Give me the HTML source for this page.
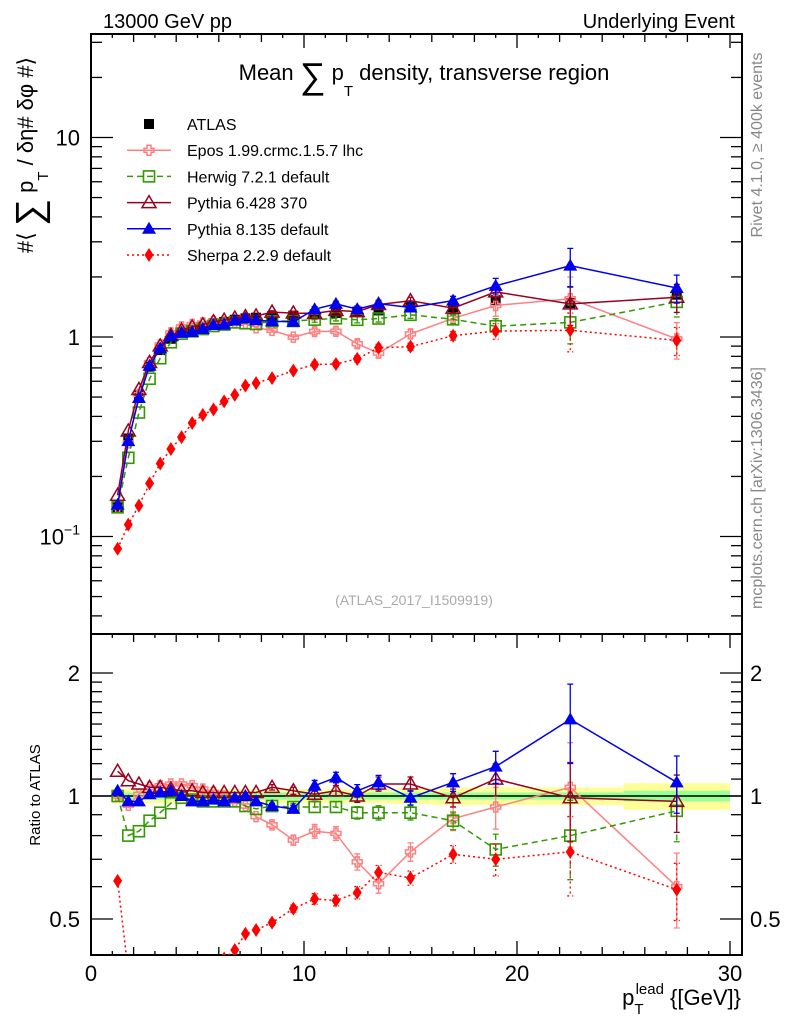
<!DOCTYPE html>
<html><head><meta charset="utf-8"><style>
html,body{margin:0;padding:0;background:#fff;}
svg{display:block;font-family:"Liberation Sans",sans-serif;}
</style></head><body>
<svg id="chart" width="786" height="1024" viewBox="0 0 786 1024" xmlns="http://www.w3.org/2000/svg">
<defs>
<clipPath id="clipMain"><rect x="91" y="34" width="651" height="600"/></clipPath>
<clipPath id="clipRatio"><rect x="91" y="634" width="651" height="321"/></clipPath>
</defs>
<g id="bands" clip-path="url(#clipRatio)"></g>
<g id="axes"></g>
<g id="series"></g>
<text x="103" y="28" font-size="20">13000 GeV pp</text>
<text x="735" y="28" font-size="20" text-anchor="end">Underlying Event</text>
<text x="424" y="80" font-size="22" text-anchor="middle">Mean <tspan font-size="36" dy="8">∑</tspan><tspan dy="-8"> p</tspan><tspan font-size="15" dy="16">T</tspan><tspan dy="-16"> density, transverse region</tspan></text>
<text x="414" y="605" font-size="14" fill="#aaa" text-anchor="middle">(ATLAS_2017_I1509919)</text>
<text transform="translate(762,145) rotate(-90)" font-size="16" fill="#888" text-anchor="middle">Rivet 4.1.0, ≥ 400k events</text>
<text transform="translate(762,488) rotate(-90)" font-size="16" fill="#888" text-anchor="middle">mcplots.cern.ch [arXiv:1306.3436]</text>
<text transform="translate(33,155) rotate(-90)" font-size="22" text-anchor="middle">#⟨ <tspan font-size="38" dy="9">∑</tspan><tspan dy="-9"> p</tspan><tspan font-size="15" dy="15">T</tspan><tspan dy="-15"> / δη# δφ #⟩</tspan></text>
<text transform="translate(40,795) rotate(-90)" font-size="15" text-anchor="middle">Ratio to ATLAS</text>
<text x="741" y="1005" font-size="22" text-anchor="end">p<tspan font-size="15" dy="9">T</tspan><tspan font-size="15" dy="-20" dx="-8">lead</tspan><tspan dy="11"> {[GeV]}</tspan></text>
<g id="legend"></g>
</svg>
<script>
const xBins = [1.25,1.75,2.25,2.75,3.25,3.75,4.25,4.75,5.25,5.75,6.25,6.75,7.25,7.75,8.5,9.5,10.5,11.5,12.5,13.5,15,17,19,22.5,27.5];
const atlas = [0.14,0.31,0.51,0.71,0.86,0.98,1.05,1.09,1.13,1.17,1.19,1.22,1.24,1.25,1.27,1.28,1.30,1.32,1.34,1.36,1.42,1.41,1.53,1.48,1.63];
const epos = [1.0,0.95,1.01,1.05,1.06,1.07,1.07,1.06,1.04,1.02,1.0,0.97,0.945,0.89,0.85,0.78,0.82,0.81,0.69,0.61,0.73,0.88,0.94,1.05,0.60];
const herwig = [1.0,0.80,0.82,0.87,0.91,0.96,0.99,0.98,0.97,0.97,0.97,0.97,0.945,0.93,0.945,0.94,0.94,0.94,0.91,0.91,0.91,0.87,0.74,0.80,0.92];
const pythia6 = [1.15,1.09,1.07,1.05,1.05,1.04,1.03,1.03,1.02,1.02,1.02,1.02,1.02,1.02,1.05,1.03,1.01,1.03,1.0,1.07,1.07,0.99,1.10,0.99,0.97];
const pythia8 = [1.03,0.97,0.97,1.01,1.02,1.03,1.0,0.97,0.97,0.98,0.97,0.99,1.0,0.97,0.945,0.93,1.06,1.11,1.03,1.08,0.99,1.08,1.18,1.54,1.08];
const sherpa = [0.62,0.37,0.28,0.26,0.27,0.28,0.30,0.34,0.36,0.37,0.40,0.42,0.46,0.47,0.49,0.53,0.56,0.555,0.58,0.65,0.63,0.72,0.70,0.73,0.59];
const relErr = [0.01,0.01,0.01,0.01,0.01,0.01,0.01,0.01,0.01,0.01,0.01,0.01,0.01,0.01,0.015,0.02,0.03,0.03,0.035,0.04,0.04,0.05,0.09,0.22,0.16];
const bandStat = [0.02,0.02,0.02,0.02,0.02,0.02,0.02,0.02,0.02,0.02,0.02,0.02,0.02,0.02,0.02,0.02,0.02,0.02,0.02,0.02,0.02,0.02,0.02,0.02,0.03];
const bandTot = [0.04,0.04,0.04,0.04,0.04,0.04,0.04,0.04,0.04,0.04,0.04,0.04,0.04,0.04,0.04,0.04,0.04,0.04,0.04,0.04,0.045,0.05,0.05,0.05,0.075];
const binEdges = [1,1.5,2,2.5,3,3.5,4,4.5,5,5.5,6,6.5,7,7.5,8,9,10,11,12,13,14,16,18,20,25,30];

const NS='http://www.w3.org/2000/svg';
const X0=91, X1=742, PX=21.3;
const MT=34, MB=634, RB=955;
const sx = v => X0 + v*PX;
const sy = v => 337 - 199.5*Math.log10(v);
const sr = v => 796 - 123*Math.log2(v);
function mk(tag, attrs, parent){const e=document.createElementNS(NS,tag);for(const k in attrs)e.setAttribute(k,attrs[k]);parent.appendChild(e);return e;}

const axes=document.getElementById('axes');
let f1=mk('rect',{x:X0,y:MT,width:X1-X0,height:MB-MT,fill:'none',stroke:'#000','stroke-width':2},axes);


let f2=mk('rect',{x:X0,y:MB,width:X1-X0,height:RB-MB,fill:'none',stroke:'#000','stroke-width':2},axes);


for(let v=1; v<=30; v++){
  const L = v%10===0?14:(v%2===0?8:4);
  const x=sx(v);
  for(const [yb,dir] of [[MT,1],[MB,1],[RB,-1]]){
    mk('line',{x1:x,x2:x,y1:yb,y2:yb+dir*L,stroke:'#000','stroke-width':1.3},axes);
  }
}
const xTickLabels=['0','10','20','30'];
xTickLabels.forEach(t=>{const e=mk('text',{x:sx(+t),y:981,'font-size':22,'text-anchor':'middle'},axes);e.textContent=t;

});
for(let d=-2; d<=1; d++){
  for(let m=1;m<=9;m++){
    const v=m*Math.pow(10,d); const y=sy(v);
    if(y<MT||y>MB) continue;
    const L=m===1?22:11;
    mk('line',{x1:X0,x2:X0+L,y1:y,y2:y,stroke:'#000','stroke-width':1.3},axes);
    mk('line',{x1:X1,x2:X1-L,y1:y,y2:y,stroke:'#000','stroke-width':1.3},axes);
  }
}
const yTickLabels=[[10,'10'],[1,'1']];
yTickLabels.forEach(([v,t])=>{const e=mk('text',{x:80,y:sy(v)+8,'font-size':22,'text-anchor':'end'},axes);e.textContent=t;

});
let e10=mk('text',{x:80,y:sy(0.1)+8,'font-size':22,'text-anchor':'end'},axes);
e10.innerHTML='10<tspan font-size="14" dy="-10">−1</tspan>';


const rTicks=[0.5,0.6,0.7,0.8,0.9,1,1.1,1.2,1.3,1.4,1.5,1.6,1.7,1.8,1.9,2];
rTicks.forEach(v=>{const y=sr(v);const L=(v===1||v===2||v===0.5)?22:11;
  mk('line',{x1:X0,x2:X0+L,y1:y,y2:y,stroke:'#000','stroke-width':1.3},axes);
  mk('line',{x1:X1,x2:X1-L,y1:y,y2:y,stroke:'#000','stroke-width':1.3},axes);});
const rLabels=['0.5','1','2'];
rLabels.forEach(t=>{for(const [x,a] of [[80,'end'],[750,'start']]){const e=mk('text',{x:x,y:sr(+t)+8,'font-size':22,'text-anchor':a},axes);e.textContent=t;

}});

const bands=document.getElementById('bands');
xBins.forEach((x,i)=>{
  const a=sx(binEdges[i]), b=sx(binEdges[i+1]);
  let r1=mk('rect',{x:a,y:sr(1+bandTot[i]),width:b-a,height:sr(1-bandTot[i])-sr(1+bandTot[i]),fill:'#ffff99'},bands);
  
  
  let r2=mk('rect',{x:a,y:sr(1+bandStat[i]),width:b-a,height:sr(1-bandStat[i])-sr(1+bandStat[i]),fill:'#99ff99'},bands);
  
  
});
let one=mk('line',{x1:X0,x2:X1,y1:sr(1),y2:sr(1),stroke:'#000','stroke-width':1.5},bands);



function marker(g,type,x,y,c){
  let e;
  if(type==='square') e=mk('rect',{x:x-5,y:y-5,width:10,height:10,fill:'#000'},g);
  else if(type==='osquare') e=mk('rect',{x:x-5.5,y:y-5.5,width:11,height:11,fill:'none',stroke:c,'stroke-width':1.6},g);
  else if(type==='cross') e=mk('path',{d:`M${x-2} ${y-5}h4v3h3v4h-3v3h-4v-3h-3v-4h3z`,fill:'none',stroke:c,'stroke-width':1.5},g);
  else if(type==='otri') e=mk('path',{d:`M${x} ${y-7}L${x+7} ${y+5}L${x-7} ${y+5}Z`,fill:'none',stroke:c,'stroke-width':1.5},g);
  else if(type==='tri') e=mk('path',{d:`M${x} ${y-7}L${x+7} ${y+5}L${x-7} ${y+5}Z`,fill:c},g);
  else e=mk('path',{d:`M${x} ${y-7}L${x+4.5} ${y}L${x} ${y+7}L${x-4.5} ${y}Z`,fill:c},g);
  
  
}
const seriesDefs=[
  ['epos-series',epos,'#ff8080','cross',''],
  ['herwig-series',herwig,'#339900','osquare','6,4'],
  ['pythia6-series',pythia6,'#990022','otri',''],
  ['pythia8-series',pythia8,'#0000ee','tri',''],
  ['sherpa-series',sherpa,'#ff0000','diamond','2,3']
];
const sg=document.getElementById('series');
const ga=mk('g',{'clip-path':'url(#clipMain)'},sg);


atlas.forEach((v,i)=>{const x=sx(xBins[i]);
  mk('line',{x1:x,x2:x,y1:sy(v*(1+bandTot[i])),y2:sy(v*(1-bandTot[i])),stroke:'#000','stroke-width':1.3},ga);
  marker(ga,'square',x,sy(v),'#000');});
const gm=mk('g',{'clip-path':'url(#clipMain)'},sg);


const gr=mk('g',{'clip-path':'url(#clipRatio)'},sg);


seriesDefs.forEach(([name,ratio,c,type,dash])=>{
  for(const [panel,fy,isMain] of [[gm,sy,true],[gr,sr,false]]){
    const g=mk('g',{},panel);
    
    
    const vals=ratio.map((r,i)=>isMain?r*atlas[i]:r);
    const pts=vals.map((v,i)=>sx(xBins[i]).toFixed(1)+','+fy(v).toFixed(1)).join(' ');
    const pl=mk('polyline',{points:pts,fill:'none',stroke:c,'stroke-width':1.5,'stroke-dasharray':dash},g);
    
    
    vals.forEach((v,i)=>{
      const x=sx(xBins[i]);
      const e=relErr[i]*(type==='cross'?1.3:1);
      if(e>0.012){
        const y1=fy(v*(1+e)), y2=fy(v*(1-e));
        mk('path',{d:`M${x} ${y1}V${y2}M${x-3} ${y1}h6M${x-3} ${y2}h6`,stroke:c,'stroke-width':1.3,'stroke-dasharray':dash},g);
      }
      marker(g,type,x,fy(v),c);
    });
  }
});

const lg=document.getElementById('legend');
const legendLabels=['ATLAS','Epos 1.99.crmc.1.5.7 lhc','Herwig 7.2.1 default','Pythia 6.428 370','Pythia 8.135 default','Sherpa 2.2.9 default'];
const legendStyles=[['#000','square',''],...seriesDefs.map(s=>[s[2],s[3],s[4]])];
legendLabels.forEach((t,i)=>{
  const y=124+i*26.2;
  const g=mk('g',{},lg);
  
  
  const [c,type,dash]=legendStyles[i];
  if(i>0) mk('line',{x1:127,x2:171,y1:y,y2:y,stroke:c,'stroke-width':1.5,'stroke-dasharray':dash},g);
  marker(g,type,149,y,c);
  const tx=mk('text',{x:187,y:y+6,'font-size':16},g); tx.textContent=t;
});
</script>
</body></html>
